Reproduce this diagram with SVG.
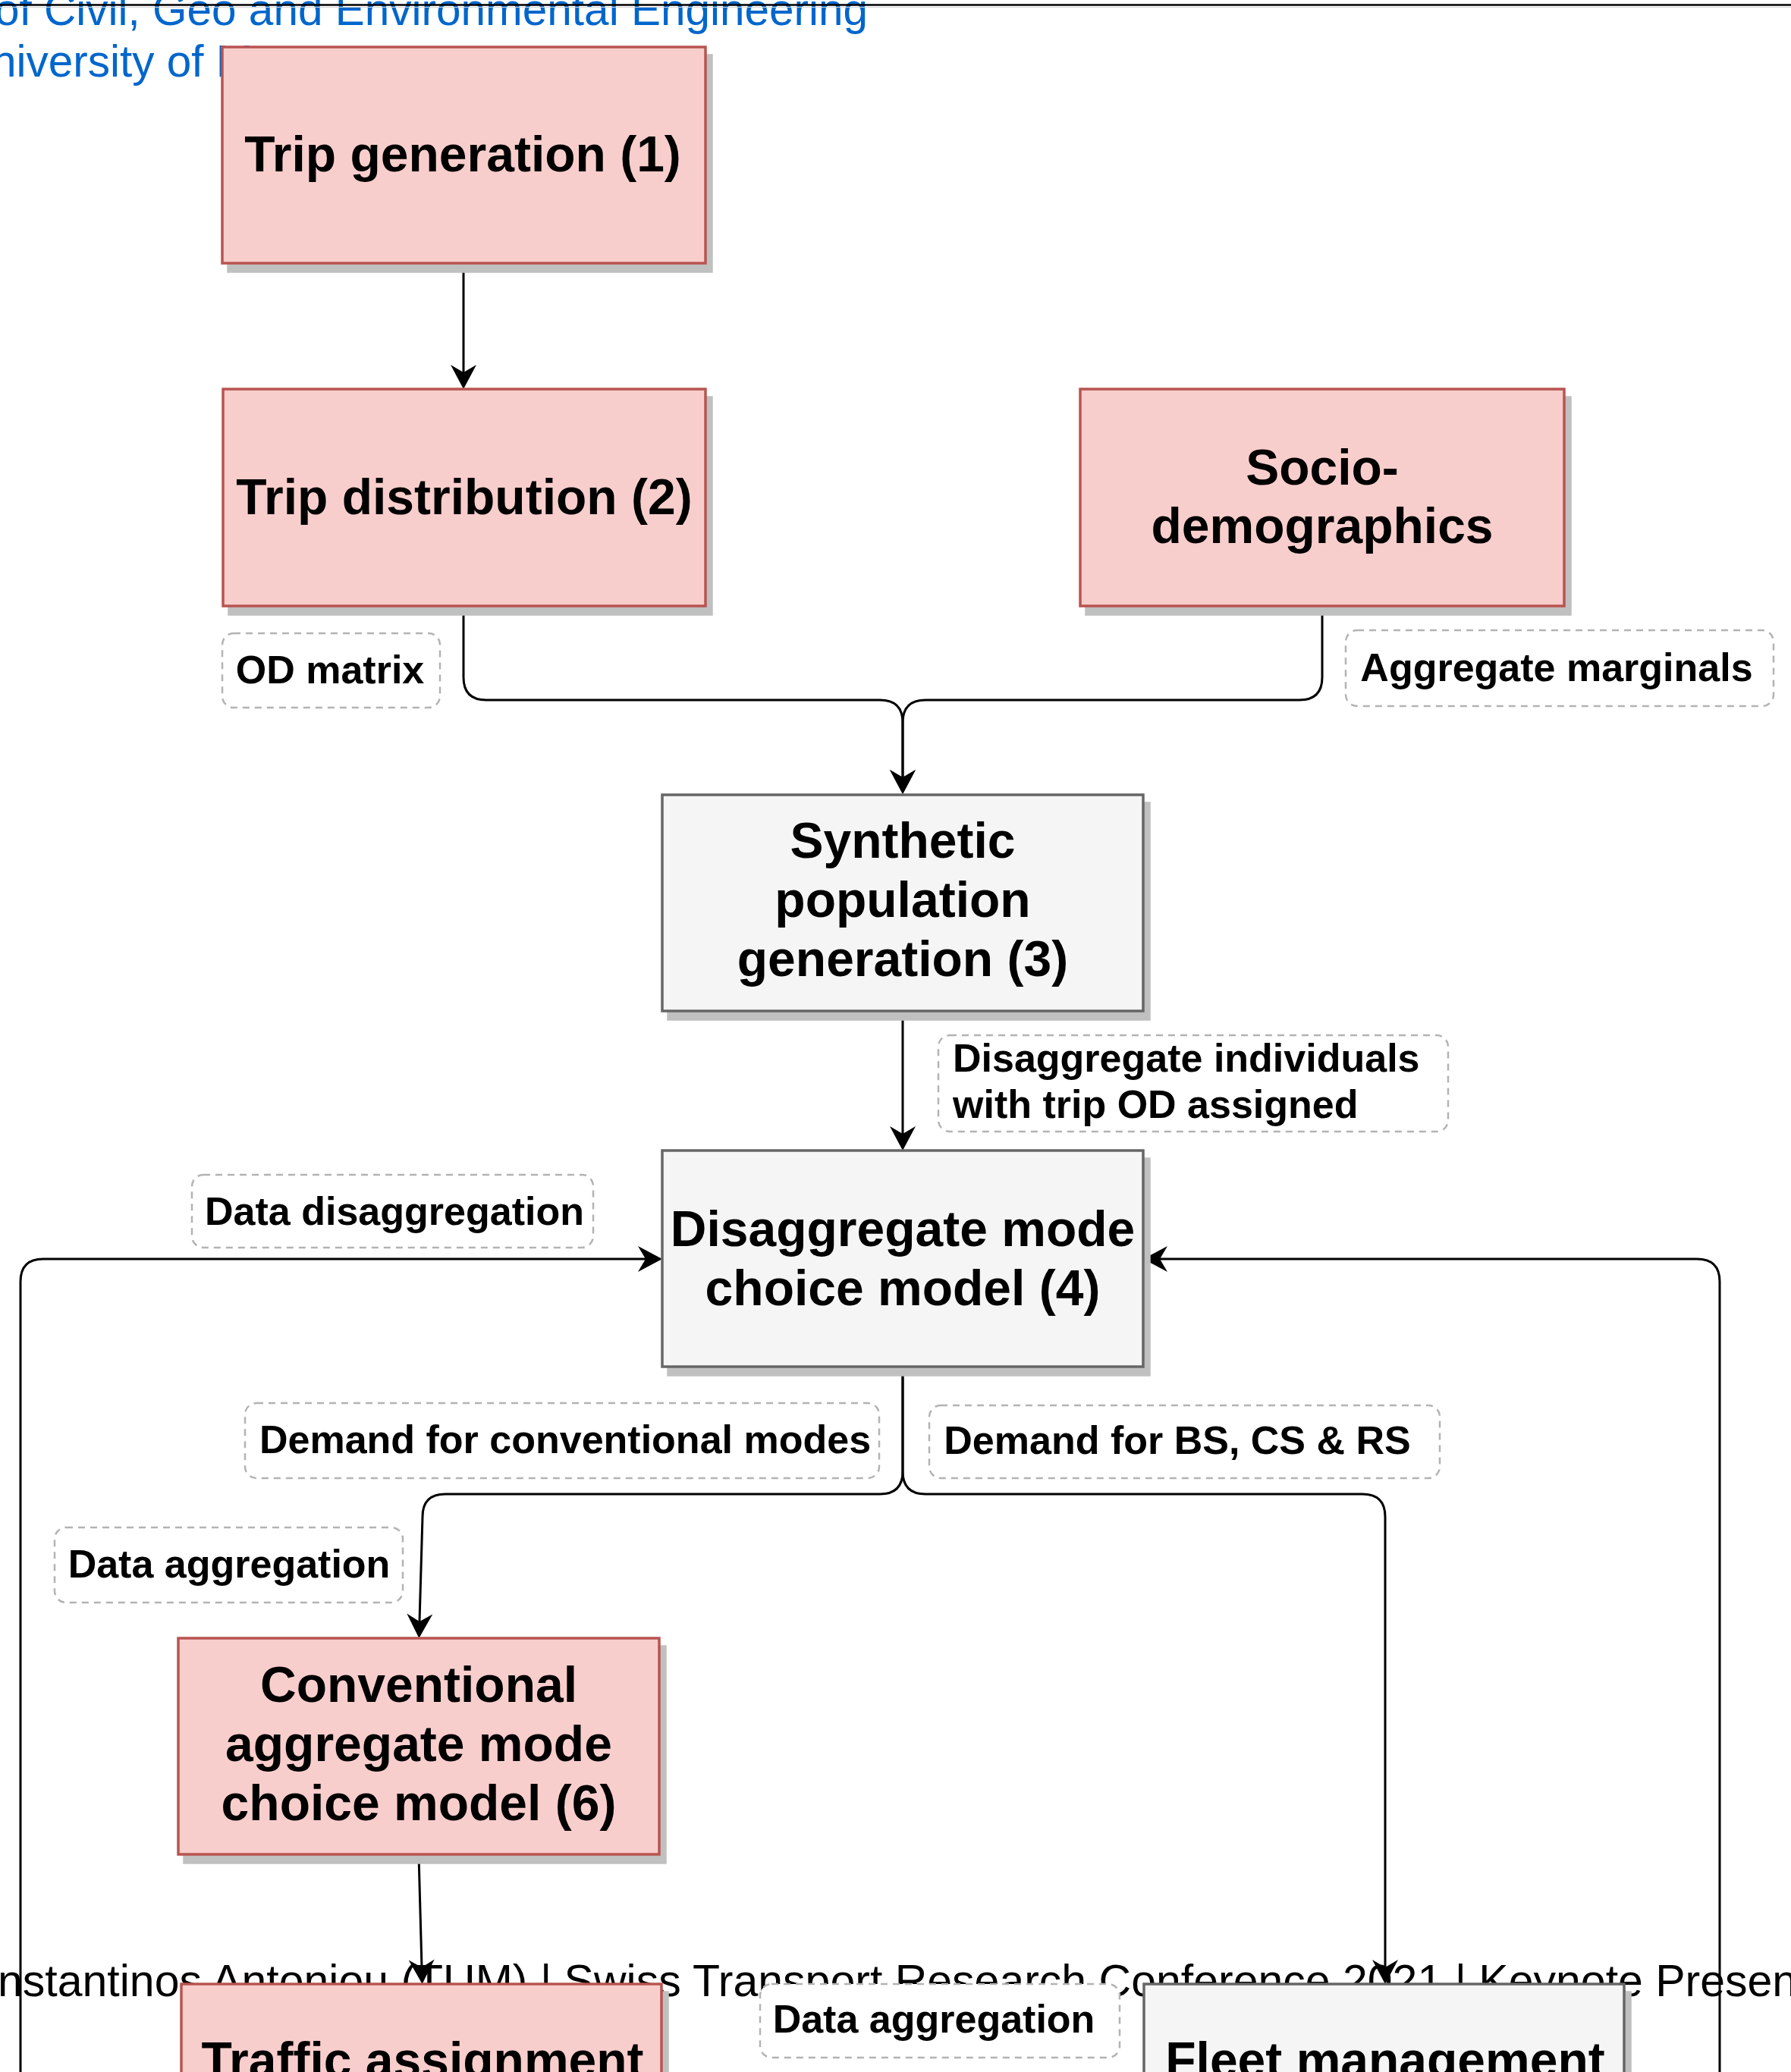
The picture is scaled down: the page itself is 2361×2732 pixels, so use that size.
<svg xmlns="http://www.w3.org/2000/svg" width="2361" height="2732" viewBox="0 0 2361 2732">
  <style>
    .bg { font-family: "Liberation Sans", Arial, sans-serif; font-size: 58.5px; }
    .hdr { fill: #0066cc; }
    .ftr { fill: #000000; font-size: 59px; }
    .box-red { fill: #f8cecc; stroke: #b85450; stroke-width: 3.5; }
    .box-grey { fill: #f5f5f5; stroke: #666666; stroke-width: 3.5; }
    .shadow { fill: #c0c0c0; stroke: #c0c0c0; stroke-width: 3.5; }
    .title { font-family: "Liberation Sans", Arial, sans-serif; font-weight: bold; font-size: 66px; fill: #000000; text-anchor: middle; }
    .tag { fill: #ffffff; stroke: #b3b3b3; stroke-width: 2.5; stroke-dasharray: 9 7; }
    .tagtxt { font-family: "Liberation Sans", Arial, sans-serif; font-weight: bold; font-size: 52px; fill: #000000; text-anchor: middle; }
    .tagtxt-left { font-family: "Liberation Sans", Arial, sans-serif; font-weight: bold; font-size: 52px; fill: #000000; text-anchor: start; }
    .edge { fill: none; stroke: #000000; stroke-width: 3; marker-end: url(#arrow); }
  </style>
  <defs>
    <marker id="arrow" markerUnits="userSpaceOnUse" markerWidth="34" markerHeight="36" viewBox="-11 -18 34 36" refX="0" refY="0" orient="auto">
      <path d="M22,0 L-10,-17 L0,0 L-10,17 Z" fill="#000000"/>
    </marker>
  </defs>

  <rect x="0" y="0" width="2361" height="2732" fill="#ffffff"/>

  <!-- slide background: header lines and footer -->
  <g id="slide-text" class="bg">
    <text class="hdr" x="-7" y="33">of Civil, Geo and Environmental Engineering</text>
    <text class="hdr" x="-11" y="101">niversity of M</text>
    <text class="ftr" x="-3" y="2632">nstantinos Antoniou (TUM) | Swiss Transport Research Conference 2021 | Keynote Presen</text>
  </g>
  <g id="header-rule">
    <line x1="0" y1="6.5" x2="2361" y2="6.5" stroke="#000000" stroke-width="2.5"/>
    <line x1="0" y1="9.5" x2="2361" y2="9.5" stroke="#d4d4d4" stroke-width="1"/>
  </g>

  <!-- connectors -->
  <g id="connectors">
    <path class="edge" d="M611,349 L611,491"/>
    <path class="edge" d="M611,800 L611,893 Q611,923 641,923 L1160,923 Q1190,923 1190,953 L1190,1025"/>
    <path class="edge" d="M1743,800 L1743,893 Q1743,923 1713,923 L1220,923 Q1190,923 1190,953 L1190,1025"/>
    <path class="edge" d="M1190,1334 L1190,1495"/>
    <path class="edge" d="M1190,1803 L1190,1940 Q1190,1970 1160,1970 L587,1970 Q557,1970 557,2000 L553,2138"/>
    <path class="edge" d="M1190,1803 L1190,1940 Q1190,1970 1220,1970 L1796,1970 Q1826,1970 1826,2000 L1826,2594"/>
    <path class="edge" d="M552,2446 L556,2594"/>
    <path class="edge" d="M27,2732 L27,1690 Q27,1660 57,1660 L851,1660"/>
    <path class="edge" d="M2267,2732 L2267,1690 Q2267,1660 2237,1660 L1529,1660"/>
  </g>

  <!-- process nodes -->
  <g id="trip-generation">
    <rect class="shadow" x="301" y="73" width="637" height="285"/>
    <rect class="box-red" x="293" y="62" width="637" height="285"/>
    <text class="title" x="610" y="226">Trip generation (1)</text>
  </g>
  <g id="trip-distribution">
    <rect class="shadow" x="302" y="524" width="636" height="286"/>
    <rect class="box-red" x="294" y="513" width="636" height="286"/>
    <text class="title" x="612" y="678">Trip distribution (2)</text>
  </g>
  <g id="socio-demographics">
    <rect class="shadow" x="1432" y="524" width="638" height="286"/>
    <rect class="box-red" x="1424" y="513" width="638" height="286"/>
    <text class="title" x="1743" y="639">Socio-</text>
    <text class="title" x="1743" y="716">demographics</text>
  </g>
  <g id="synthetic-population">
    <rect class="shadow" x="881" y="1059" width="634" height="285"/>
    <rect class="box-grey" x="873" y="1048" width="634" height="285"/>
    <text class="title" x="1190" y="1131">Synthetic</text>
    <text class="title" x="1190" y="1209">population</text>
    <text class="title" x="1190" y="1287">generation (3)</text>
  </g>
  <g id="disaggregate-mode-choice">
    <rect class="shadow" x="881" y="1528" width="634" height="285"/>
    <rect class="box-grey" x="873" y="1517" width="634" height="285"/>
    <text class="title" x="1190" y="1643">Disaggregate mode</text>
    <text class="title" x="1190" y="1721">choice model (4)</text>
  </g>
  <g id="conventional-mode-choice">
    <rect class="shadow" x="243" y="2171" width="634" height="285"/>
    <rect class="box-red" x="235" y="2160" width="634" height="285"/>
    <text class="title" x="552" y="2244">Conventional</text>
    <text class="title" x="552" y="2322">aggregate mode</text>
    <text class="title" x="552" y="2400">choice model (6)</text>
  </g>
  <g id="traffic-assignment">
    <rect class="shadow" x="247" y="2627" width="633" height="285"/>
    <rect class="box-red" x="239" y="2616" width="633" height="285"/>
    <text class="title" x="557" y="2739">Traffic assignment</text>
  </g>
  <g id="fleet-management">
    <rect class="shadow" x="1516" y="2627" width="633" height="285"/>
    <rect class="box-grey" x="1508" y="2616" width="633" height="285"/>
    <text class="title" x="1826" y="2739">Fleet management</text>
  </g>

  <!-- edge labels -->
  <g id="label-od-matrix">
    <rect class="tag" x="293" y="835" width="287" height="98" rx="15"/>
    <text class="tagtxt" x="435" y="901">OD matrix</text>
  </g>
  <g id="label-aggregate-marginals">
    <rect class="tag" x="1774" y="831" width="564" height="100" rx="15"/>
    <text class="tagtxt" x="2052" y="898">Aggregate marginals</text>
  </g>
  <g id="label-disaggregate-individuals">
    <rect class="tag" x="1237" y="1365" width="672" height="127" rx="15"/>
    <text class="tagtxt-left" x="1256" y="1413">Disaggregate individuals</text>
    <text class="tagtxt-left" x="1256" y="1474">with trip OD assigned</text>
  </g>
  <g id="label-data-disaggregation">
    <rect class="tag" x="253" y="1549" width="529" height="96" rx="15"/>
    <text class="tagtxt" x="520" y="1615">Data disaggregation</text>
  </g>
  <g id="label-demand-conventional">
    <rect class="tag" x="323" y="1850" width="836" height="99" rx="15"/>
    <text class="tagtxt" x="745" y="1916">Demand for conventional modes</text>
  </g>
  <g id="label-demand-shared">
    <rect class="tag" x="1225" y="1853" width="673" height="96" rx="15"/>
    <text class="tagtxt" x="1552" y="1917">Demand for BS, CS &amp; RS</text>
  </g>
  <g id="label-data-aggregation-left">
    <rect class="tag" x="72" y="2014" width="459" height="99" rx="15"/>
    <text class="tagtxt" x="302" y="2080">Data aggregation</text>
  </g>
  <g id="label-data-aggregation-bottom">
    <rect class="tag" x="1002" y="2616" width="474" height="97" rx="15"/>
    <text class="tagtxt" x="1231" y="2680">Data aggregation</text>
  </g>
</svg>
